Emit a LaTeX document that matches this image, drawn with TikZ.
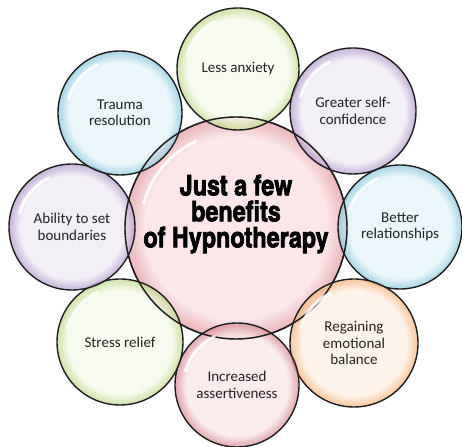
\documentclass[tikz,border=0pt]{standalone}
\usepackage{fontspec}
\setmainfont{Carlito}
\newfontfamily\heavyfont[FakeBold=2.2]{texgyreheroscn-bold.otf}
\definecolor{bubin}{RGB}{255,255,255}
\definecolor{bubout}{RGB}{200,200,200}
\definecolor{gIn}{RGB}{245,249,234}\definecolor{gOut}{RGB}{200,222,152}
\definecolor{bIn}{RGB}{228,244,249}\definecolor{bOut}{RGB}{150,206,224}
\definecolor{pIn}{RGB}{240,234,245}\definecolor{pOut}{RGB}{188,168,210}
\definecolor{oIn}{RGB}{254,240,228}\definecolor{oOut}{RGB}{246,188,136}
\definecolor{rIn}{RGB}{249,230,232}\definecolor{rOut}{RGB}{220,152,160}
\definecolor{cIn}{RGB}{251,231,233}\definecolor{cOut}{RGB}{236,186,192}
\definecolor{rimline}{RGB}{30,30,30}
\definecolor{txt}{RGB}{35,35,35}
\pgfdeclareradialshading[bubin,bubout]{bubble}{\pgfpoint{0bp}{0bp}}{color(0bp)=(bubin); color(20.5bp)=(bubin); color(24.5bp)=(bubout); color(25bp)=(bubout); color(50bp)=(bubout)}
\tikzset{
  bub/.style n args={3}{circle, draw=rimline, line width=1.4pt, inner sep=0pt,
    minimum size=#3, shading=bubble, fill opacity=0.78, text opacity=1,
    /utils/exec={\colorlet{bubin}{#1}\colorlet{bubout}{#2}},
    font=\fontsize{15}{16.5}\selectfont, text=txt, align=center},
  gloss/.style={white, line width=3pt, opacity=0.85, line cap=round}
}
\begin{document}
\begin{tikzpicture}[x=1pt,y=1pt]
\useasboundingbox (0,0) rectangle (462,446);
\node[bub={cIn}{cOut}{222}, fill opacity=1] (c) at (236,218) {};
\node[font=\heavyfont\fontsize{28.5}{26}\selectfont, align=center, text=black] (title) at (236,232)
  {Just a few\\benefits\\of Hypnotherapy};
\node[bub={gIn}{gOut}{122}] (less) at (238,377) {Less anxiety};
\node[bub={pIn}{pOut}{126}] (greater) at (353,335) {Greater self-\\confidence};
\node[bub={bIn}{bOut}{124}] (better) at (400,219) {Better\\relationships};
\node[bub={oIn}{oOut}{128}] (regain) at (354,103) {Regaining\\emotional\\balance};
\node[bub={rIn}{rOut}{124}] (incr) at (237,61) {Increased\\assertiveness};
\node[bub={gIn}{gOut}{126}] (stress) at (120,104) {Stress relief};
\node[bub={pIn}{pOut}{126}] (ability) at (72,219) {Ability to set\\boundaries};
\node[bub={bIn}{bOut}{124}] (trauma) at (120,333) {Trauma\\resolution};
\draw[rimline, line width=1.4pt] (c.center) circle[radius=111];
\foreach \n/\r in {less/61,greater/63,better/62,regain/64,incr/62,stress/63,ability/63,trauma/62,c/111}
  \draw[gloss] (\n.center) ++(115:0.86*\r) arc[start angle=115, end angle=165, radius=0.86*\r];
\end{tikzpicture}
\end{document}
